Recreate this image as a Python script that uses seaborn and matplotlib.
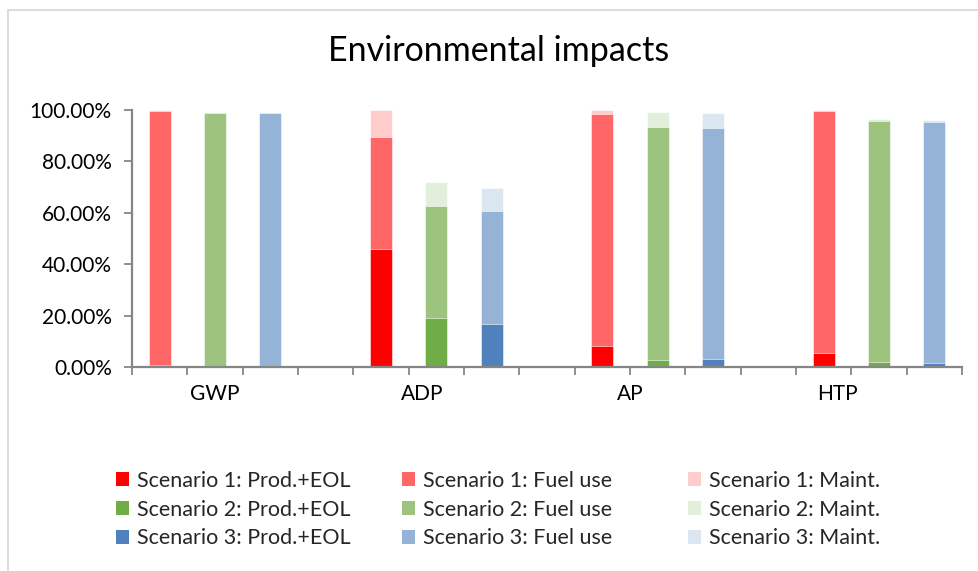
import matplotlib
matplotlib.use("Agg")
import matplotlib.pyplot as plt
import pandas as pd
import seaborn as sns
from matplotlib.lines import Line2D
from matplotlib.patches import Patch
from matplotlib.ticker import FuncFormatter

# Impact categories and scenarios
categories = ["GWP", "ADP", "AP", "HTP"]
scenarios = ["Scenario 1", "Scenario 2", "Scenario 3"]
stages = ["Prod.+EOL", "Fuel use", "Maint."]

# Share of total impact (%) per life-cycle stage, one value per category
s1_prod = [1.0, 45.9, 8.2, 5.7]
s1_fuel = [98.7, 43.7, 90.2, 93.8]
s1_maint = [0.3, 10.4, 1.6, 0.5]

s2_prod = [0.3, 19.2, 2.8, 2.1]
s2_fuel = [98.4, 43.6, 90.5, 93.7]
s2_maint = [0.2, 9.1, 5.8, 0.6]

s3_prod = [0.3, 16.9, 3.1, 1.7]
s3_fuel = [98.4, 43.8, 90.0, 93.5]
s3_maint = [0.2, 9.1, 5.7, 0.8]

yticks = [0, 20, 40, 60, 80, 100]

colors = {
    "Scenario 1": ["#FF0000", "#FF6666", "#FFCCCC"],
    "Scenario 2": ["#70AD47", "#9DC47E", "#E2EFDA"],
    "Scenario 3": ["#4F81BD", "#95B3D7", "#DCE6F1"],
}

values = {
    "Scenario 1": (s1_prod, s1_fuel, s1_maint),
    "Scenario 2": (s2_prod, s2_fuel, s2_maint),
    "Scenario 3": (s3_prod, s3_fuel, s3_maint),
}

rows = []
for gi, cat in enumerate(categories):
    for si, sc in enumerate(scenarios):
        prod, fuel, maint = (v[gi] for v in values[sc])
        rows.append({
            "category": cat,
            "scenario": sc,
            "slot": gi * 4 + si + 0.5,
            "lvl_prod": prod,
            "lvl_fuel": prod + fuel,
            "lvl_maint": prod + fuel + maint,
        })
df = pd.DataFrame(rows)

sns.set_theme(style="white")
plt.rcParams["font.family"] = ["Lato", "DejaVu Sans"]

W, H = 979, 571
fig = plt.figure(figsize=(W / 100, H / 100), dpi=100)
ax = fig.add_axes([132 / W, (H - 367.3) / H, (962 - 132) / W, (367.3 - 110) / H])

# Stacked bars: draw cumulative totals from the top layer down
for level, idx in (("lvl_maint", 2), ("lvl_fuel", 1), ("lvl_prod", 0)):
    pal = {sc: colors[sc][idx] for sc in scenarios}
    sns.barplot(data=df, x="slot", y=level, hue="scenario", hue_order=scenarios,
                palette=pal, native_scale=True, dodge=False, width=0.4,
                errorbar=None, legend=False, saturation=1,
                edgecolor="white", linewidth=0.4, ax=ax)

n_slots = 4 * len(categories) - 1
ax.set_xlim(0, n_slots)
ax.set_ylim(0, 100)
ax.set_xlabel("")
ax.set_ylabel("")

axis_col = "#868686"
for side in ("top", "right"):
    ax.spines[side].set_visible(False)
for side in ("left", "bottom"):
    ax.spines[side].set_color(axis_col)
    ax.spines[side].set_linewidth(1.6)

ax.set_yticks(yticks)
ax.yaxis.set_major_formatter(FuncFormatter(lambda v, p: f"{v:.2f}%"))
ax.tick_params(axis="y", direction="out", length=5.5, width=1.3, color=axis_col,
               labelsize=15, pad=9, labelcolor="black", left=True)

# Slot boundaries carry tick marks; category names sit between them
ax.xaxis.remove_overlapping_locs = False
ax.set_xticks(range(n_slots + 1))
ax.set_xticklabels([])
step = n_slots / len(categories)
ax.set_xticks([1.5 + step * i for i in range(len(categories))], minor=True)
ax.set_xticklabels(categories, minor=True)
ax.tick_params(axis="x", which="major", direction="out", length=5.5, width=1.3,
               color=axis_col, bottom=True)
ax.tick_params(axis="x", which="minor", length=0, labelsize=15, pad=12,
               labelcolor="black")
ax.grid(False)

fig.text(499 / W, (H - 61) / H, "Environmental impacts", ha="center",
         va="baseline", fontsize=24.5, color="black")

# Legend: one equally spaced column per life-cycle stage
col_left = [116, 402, 688]
for idx, stage in enumerate(stages):
    handles = [Patch(facecolor=colors[sc][idx], edgecolor="none") for sc in scenarios]
    labels = [f"{sc}: {stage}" for sc in scenarios]
    fig.legend(handles, labels, ncol=1, loc="upper left",
               bbox_to_anchor=(col_left[idx] / W, (H - 471) / H), frameon=False,
               fontsize=15.5, handlelength=0.62, handleheight=0.62,
               handletextpad=0.35, labelspacing=0.4,
               borderpad=0, borderaxespad=0)

# Chart-area border (only the top and left edges fall inside the image)
fig.add_artist(Line2D([8 / W, 8 / W], [0, (H - 10) / H], transform=fig.transFigure,
                      color="#D9D9D9", lw=1.3))
fig.add_artist(Line2D([8 / W, 1], [(H - 10) / H, (H - 10) / H],
                      transform=fig.transFigure, color="#D9D9D9", lw=1.3))

fig.savefig("out.png", dpi=100)
